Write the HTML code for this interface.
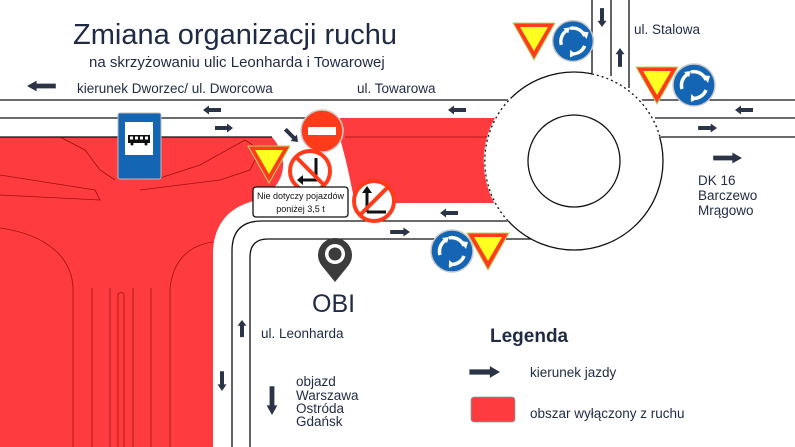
<!DOCTYPE html>
<html><head><meta charset="utf-8"><style>
html,body{margin:0;padding:0;background:#fff;}
svg{display:block;}
text{font-family:"Liberation Sans","DejaVu Sans",sans-serif;fill:#1f2a44;}
</style></head><body>
<svg width="795" height="447" viewBox="0 0 795 447" xmlns="http://www.w3.org/2000/svg">
<defs>
<g id="arrL"><path d="M0,0 L6,-4.5 L6,-2 L18,-2 L18,2 L6,2 L6,4.5 Z" fill="#2b3446"/></g>
<g id="rb">
<circle r="21" fill="#1565b5" stroke="#c9c9c9" stroke-width="1.5"/>
<path d="M-3,-13 A13,13 0 0 1 12,-5" fill="none" stroke="#fff" stroke-width="3.5"/>
<path d="M8,-10 L14,-2 L16,-9 Z" fill="#fff"/>
<path d="M12,5 A13,13 0 0 1 -3,13" fill="none" stroke="#fff" stroke-width="3.5"/>
<path d="M-3,9 L-3,17 L3,14 Z" fill="#fff"/>
<path d="M-12,4 A13,13 0 0 1 -6,-11" fill="none" stroke="#fff" stroke-width="3.5"/>
<path d="M-10,-13 L-3,-14 L-5,-8 Z" fill="#fff"/>
</g>
<g id="yield"><path d="M0,0 L42,0 L21,37 Z" fill="#ff3b1a" stroke="#b7d36a" stroke-width="1"/><path d="M7,4 L35,4 L21,28 Z" fill="#ffff20"/></g>
</defs>

<!-- red areas -->
<path d="M0,137 L272,137 C292,160 285,192 250,202 C225,210 213,228 213,255 L213,447 L0,447 Z" fill="#fe3b3f"/>
<path d="M333,118 L560,118 L560,203 L355,203 C350,180 345,150 333,118 Z" fill="#fe3b3f"/>
<line x1="345" y1="137" x2="520" y2="137" stroke="#a01010" stroke-width="0.8"/>
<g fill="none" stroke="#a01010" stroke-width="0.8">
<path d="M0,228 C50,235 72,260 73,288 L73,447"/>
<path d="M213,242 C190,245 172,260 170,290 L170,447"/>
<path d="M92,288 V447 M110,288 V447 M133,288 V447 M151,288 V447"/>
<path d="M118,447 V294 Q121,291 124,294 V447"/>
<path d="M0,175 L95,190 L100,200 L0,195"/>
<path d="M60,137 L85,150 L100,170 L115,180"/>
<path d="M160,178 L200,165 L245,140 L260,150 L250,170 L220,180 L140,190"/>
</g>

<!-- road lines -->
<g fill="none" stroke="#111" stroke-width="1.3">
<line x1="0" y1="100" x2="512" y2="100"/>
<line x1="0" y1="118" x2="333" y2="118"/>
<line x1="0" y1="137" x2="272" y2="137"/>
<line x1="642" y1="100" x2="795" y2="100"/>
<line x1="655" y1="118" x2="795" y2="118"/>
<line x1="660" y1="137" x2="795" y2="137"/>
<line x1="592" y1="0" x2="592" y2="74"/>
<line x1="611" y1="0" x2="611" y2="76"/>
<line x1="629" y1="0" x2="629" y2="88"/>
<path d="M508,221 L262,221 Q232,221 232,251 L232,447"/>
<path d="M531,239 L268,239 Q250,239 250,257 L250,447"/>
</g>

<!-- roundabout -->
<circle cx="574" cy="161" r="89" fill="#fff" stroke="#111" stroke-width="1.3"/>
<path d="M512,97 A89,89 0 0 0 508,221" fill="none" stroke="#fff" stroke-width="2"/>
<path d="M512,97 A89,89 0 0 0 508,221" fill="none" stroke="#111" stroke-width="1.3" stroke-dasharray="2,3"/>
<path d="M592,74 A89,89 0 0 1 660,137" fill="none" stroke="#fff" stroke-width="2"/>
<path d="M592,74 A89,89 0 0 1 660,137" fill="none" stroke="#111" stroke-width="1.3" stroke-dasharray="2,3"/>
<circle cx="574" cy="161" r="46" fill="#fff" stroke="#111" stroke-width="1.3"/>

<!-- arrows -->
<use href="#arrL" transform="translate(27,86) scale(1.6,1.2)"/>
<use href="#arrL" transform="translate(203,110)"/>
<use href="#arrL" transform="translate(233,128) scale(-1,1)"/>
<use href="#arrL" transform="translate(448,110)"/>
<use href="#arrL" transform="translate(298,142) rotate(-135)"/>
<use href="#arrL" transform="translate(440,213)"/>
<use href="#arrL" transform="translate(410,232) scale(-1.1,1)"/>
<use href="#arrL" transform="translate(735,110)"/>
<use href="#arrL" transform="translate(717,128) scale(-1.05,1)"/>
<use href="#arrL" transform="translate(742,158) scale(-1.6,1.2)"/>
<use href="#arrL" transform="translate(602,27) rotate(-90) scale(1.05,1)"/>
<use href="#arrL" transform="translate(620,48) rotate(90) scale(1.05,1)"/>
<use href="#arrL" transform="translate(242,320) rotate(90) scale(0.95,1)"/>
<use href="#arrL" transform="translate(222,391) rotate(-90) scale(1.1,1)"/>
<use href="#arrL" transform="translate(272,415) rotate(-90) scale(1.6,1.2)"/>
<use href="#arrL" transform="translate(500,372) scale(-1.7,1.3)"/>

<!-- bus stop sign -->
<rect x="118" y="113" width="43" height="66" rx="2" fill="#1565b5" stroke="#bbb"/>
<rect x="125" y="122" width="28" height="33" fill="#fff"/>
<rect x="128" y="135" width="22" height="8" fill="#111"/>
<rect x="130" y="136.5" width="3" height="3" fill="#fff"/><rect x="135" y="136.5" width="3" height="3" fill="#fff"/><rect x="140" y="136.5" width="3" height="3" fill="#fff"/><rect x="145" y="136.5" width="3" height="3" fill="#fff"/>
<circle cx="132" cy="144" r="1.5" fill="#111"/><circle cx="146" cy="144" r="1.5" fill="#111"/>

<!-- no entry -->
<circle cx="322" cy="131" r="21" fill="#ff3b1a" stroke="#ccc" stroke-width="1.5"/>
<rect x="308" y="127" width="28" height="8" fill="#fff"/>

<!-- yield signs -->
<use href="#yield" transform="translate(248,146)"/>
<use href="#yield" transform="translate(467,233)"/>
<use href="#yield" transform="translate(513,23)"/>
<use href="#yield" transform="translate(636,67)"/>

<!-- no left turn 1 -->
<circle cx="310" cy="171" r="20" fill="#fff" stroke="#ff3b1a" stroke-width="4"/>
<path d="M316,158 V180 H302" fill="none" stroke="#111" stroke-width="3"/>
<path d="M297,180 L303,175 L303,185 Z" fill="#111"/>
<line x1="296" y1="157" x2="324" y2="185" stroke="#ff3b1a" stroke-width="4"/>
<!-- no left turn 2 -->
<circle cx="374" cy="201" r="20" fill="#fff" stroke="#ff3b1a" stroke-width="4"/>
<path d="M367,212 V192 M367,212 H386" fill="none" stroke="#111" stroke-width="3"/>
<path d="M367,186 L362,193 L372,193 Z" fill="#111"/>
<line x1="388" y1="187" x2="360" y2="215" stroke="#ff3b1a" stroke-width="4"/>

<!-- note box -->
<rect x="253" y="187" width="95" height="30" rx="3" fill="#fff" stroke="#111" stroke-width="1.3"/>
<text x="300.5" y="199" font-size="9" text-anchor="middle" style="fill:#111">Nie dotyczy pojazdów</text>
<text x="300.5" y="212" font-size="9" text-anchor="middle" style="fill:#111">poniżej 3,5 t</text>

<!-- roundabout signs -->
<use href="#rb" transform="translate(452,251)"/>
<use href="#rb" transform="translate(573,41) scale(0.97)"/>
<use href="#rb" transform="translate(694,85)"/>

<!-- pin -->
<path d="M335,282 L322,266 A17,17 0 1 1 348,266 Z" fill="#3c3c3c"/>
<circle cx="335" cy="254" r="10" fill="#fff"/>
<circle cx="335" cy="254" r="6.5" fill="#3c3c3c"/>

<!-- texts -->
<text x="73" y="44" font-size="29">Zmiana organizacji ruchu</text>
<text x="89" y="67" font-size="15">na skrzyżowaniu ulic Leonharda i Towarowej</text>
<text x="77" y="93" font-size="13.5">kierunek Dworzec/ ul. Dworcowa</text>
<text x="357" y="93" font-size="13.5">ul. Towarowa</text>
<text x="634" y="34" font-size="13.5">ul. Stalowa</text>
<text x="698" y="185" font-size="13.5">DK 16</text>
<text x="698" y="200" font-size="13.5">Barczewo</text>
<text x="698" y="215" font-size="13.5">Mrągowo</text>
<text x="312" y="312" font-size="25">OBI</text>
<text x="261" y="338" font-size="13.5">ul. Leonharda</text>
<text x="296" y="386" font-size="13.5">objazd</text>
<text x="296" y="400" font-size="13.5">Warszawa</text>
<text x="296" y="413" font-size="13.5">Ostróda</text>
<text x="296" y="426" font-size="13.5">Gdańsk</text>
<text x="490" y="342" font-size="19" font-weight="bold">Legenda</text>
<text x="530" y="377" font-size="13.5">kierunek jazdy</text>
<rect x="471" y="397" width="44" height="25" rx="3" fill="#fe3b3f" stroke="#7aa" stroke-width="0.8"/>
<text x="530" y="418" font-size="13.5">obszar wyłączony z ruchu</text>
</svg>
</body></html>
